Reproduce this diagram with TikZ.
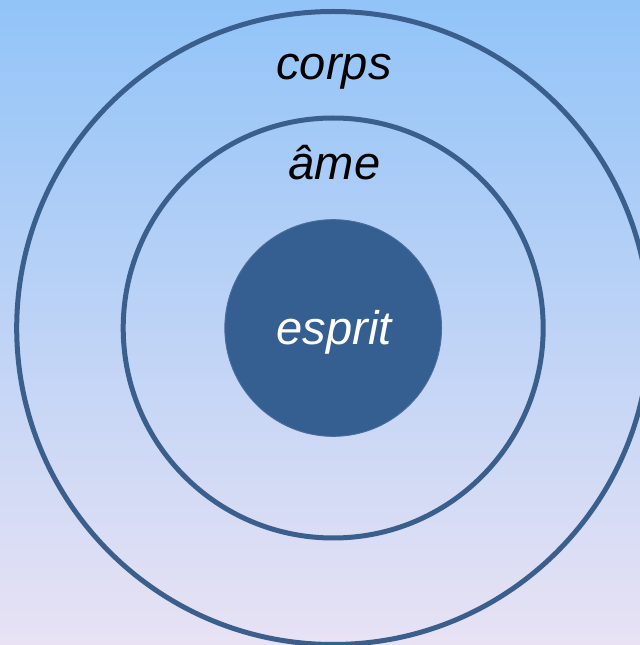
\documentclass[tikz,border=0pt]{standalone}
\usepackage{fontspec}
\setmainfont{Liberation Sans}
\usepackage{tikz}
\usetikzlibrary{positioning}
\definecolor{skytop}{RGB}{146, 196, 248}
\definecolor{skybot}{RGB}{232, 226, 244}
\definecolor{mline}{RGB}{58, 95, 140}
\definecolor{mfill}{RGB}{54, 95, 145}
\tikzset{ring/.style = {draw = mline, line width = 0.125cm, circle, inner sep = 0}}
\tikzset{word/.style = {anchor = base, inner sep = 0, font = \fontsize{33.5}{40}\selectfont\itshape}}

\begin{document}
\begin{tikzpicture}
      \useasboundingbox (0, 0) rectangle (16, 16.125);
      \clip (0, 0) rectangle (16, 16.125);
      \shade [top color = skytop, bottom color = skybot] (0, 0) rectangle (16, 16.125);

      \coordinate (c) at (8.33, 7.925);
      \node [ring, minimum size = 15.825cm] (corps) at (c) {};
      \node [ring, minimum size = 10.5cm] (ame) at (c) {};
      \node [circle, fill = mfill, draw = mfill!90!white, line width = 0.6pt, inner sep = 0, minimum size = 5.42cm] (esprit) at (c) {};

      \node [word] (corpslabel) at (8.35, 14.125) {corps};
      \node [word] (amelabel) at (8.36, 11.625) {âme};
      \node [word, white] (espritlabel) at (8.35, 7.5) {esprit};
    \end{tikzpicture}
\end{document}
